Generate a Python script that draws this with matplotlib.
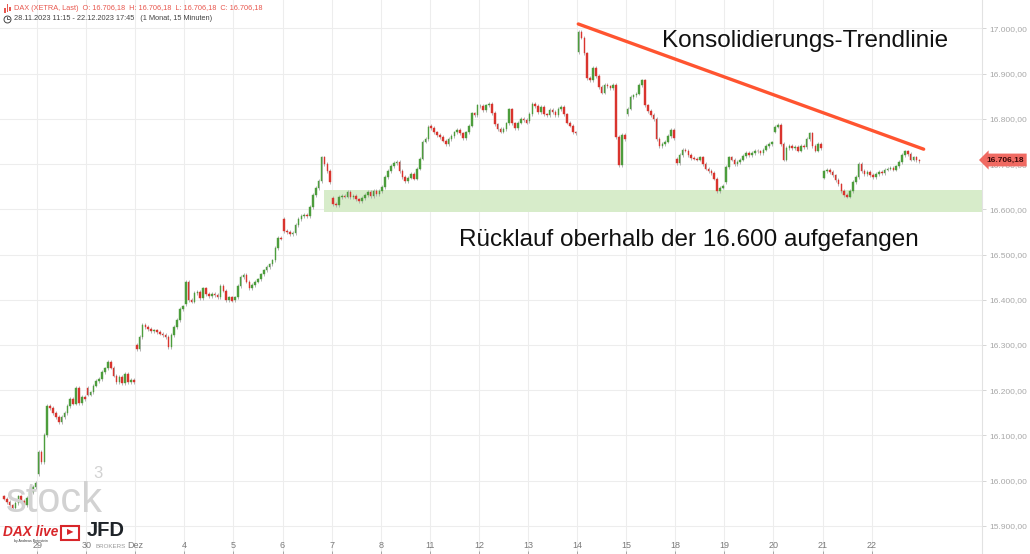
import numpy as np
import matplotlib.pyplot as plt
from matplotlib.patches import Rectangle
from matplotlib.transforms import blended_transform_factory

plt.rcParams['font.family'] = ['Liberation Sans', 'DejaVu Sans']

# Handelstage (Sessions), 30-Minuten-Schlusskurse pro Session
sessions = ['28', '29', '30', 'Dez', '4', '5', '6', '7', '8', '11', '12',
            '13', '14', '15', '18', '19', '20', '21', '22']
session_open = [15965, 16015, 16205, 16300, 16390, 16400, 16578, 16625, 16640,
                16785, 16828, 16795, 16948, 16810, 16712, 16660, 16772, 16670, 16676]
closes = [
    [15960, 15952, 15945, 15940, 15950, 15965, 15955, 15945, 15962, 15975, 15985, 15995],
    [16063, 16040, 16100, 16165, 16160, 16150, 16140, 16130, 16140, 16150, 16165, 16180,
     16170, 16205, 16172, 16185, 16180],
    [16190, 16195, 16210, 16220, 16225, 16240, 16248, 16263, 16250, 16232, 16218, 16230,
     16215, 16236, 16218, 16222, 16218],
    [16290, 16318, 16345, 16340, 16335, 16330, 16332, 16328, 16325, 16322, 16318, 16295,
     16322, 16340, 16355, 16380, 16385],
    [16440, 16400, 16396, 16415, 16418, 16404, 16425, 16412, 16408, 16412, 16410, 16405,
     16430, 16420, 16400, 16405, 16398],
    [16405, 16430, 16450, 16455, 16440, 16426, 16433, 16440, 16445, 16456, 16465, 16472,
     16478, 16487, 16515, 16537, 16535],
    [16552, 16550, 16545, 16548, 16565, 16578, 16585, 16588, 16585, 16605, 16632, 16647,
     16662, 16715, 16700, 16685, 16660],
    [16612, 16610, 16627, 16630, 16628, 16638, 16627, 16630, 16622, 16618, 16625, 16632,
     16638, 16630, 16640, 16633, 16640],
    [16650, 16672, 16685, 16696, 16703, 16705, 16685, 16672, 16663, 16670, 16678, 16668,
     16690, 16712, 16750, 16755, 16782],
    [16780, 16770, 16765, 16760, 16752, 16745, 16755, 16762, 16770, 16775, 16768, 16758,
     16770, 16785, 16812, 16808, 16830],
    [16828, 16820, 16830, 16833, 16813, 16788, 16777, 16772, 16778, 16790, 16821, 16790,
     16780, 16792, 16800, 16798, 16792],
    [16811, 16833, 16828, 16815, 16826, 16810, 16808, 16820, 16815, 16808, 16822, 16826,
     16810, 16792, 16785, 16770, 16768],
    [16992, 16980, 16945, 16890, 16885, 16912, 16895, 16870, 16858, 16875, 16872, 16868,
     16875, 16760, 16698, 16765, 16755],
    [16823, 16849, 16852, 16856, 16875, 16885, 16830, 16818, 16808, 16800, 16755, 16740,
     16745, 16750, 16762, 16775, 16758],
    [16702, 16720, 16732, 16730, 16720, 16714, 16712, 16710, 16715, 16700, 16690, 16685,
     16680, 16668, 16640, 16648, 16652],
    [16694, 16715, 16710, 16700, 16705, 16710, 16718, 16725, 16720, 16725, 16730, 16728,
     16725, 16732, 16740, 16745, 16748],
    [16783, 16786, 16745, 16710, 16735, 16740, 16735, 16738, 16730, 16740, 16738, 16755,
     16768, 16740, 16730, 16745, 16735],
    [16684, 16688, 16683, 16675, 16665, 16655, 16640, 16632, 16628, 16640, 16660, 16672,
     16700, 16685, 16678, 16682, 16676],
    [16672, 16678, 16683, 16680, 16688, 16690, 16692, 16688, 16695, 16705, 16720, 16728,
     16722, 16710, 16715, 16708, 16706.18],
]
BARS_PER_DAY = 17
last_price = 16706.18
support_zone = (16594, 16643)
trend_start = (203.9, 17010)
trend_end = (323.5, 16733)

# OHLC-Arrays aufbauen
pos, o, c = [], [], []
for i, cl in enumerate(closes):
    start = BARS_PER_DAY - len(cl)
    prev = session_open[i]
    for j, v in enumerate(cl):
        pos.append(i * BARS_PER_DAY + start + j)
        o.append(prev)
        c.append(v)
        prev = v
pos, o, c = np.array(pos), np.array(o), np.array(c)
up = c >= o

fig = plt.figure(figsize=(10.30, 5.54), dpi=100)
ax = fig.add_axes([0, 0, 982 / 1030, 1])
ax.set_xlim(3.66, 343.7)
ax.set_ylim(15837.4, 17063.05)

# Gitter
yticks = np.arange(15900, 17001, 100)
for yv in yticks:
    ax.axhline(yv, color='#ededed', lw=0.8, zorder=0)
tick_pos = [i * BARS_PER_DAY - 0.5 for i in range(1, len(sessions))]
for xv in tick_pos:
    ax.axvline(xv, color='#ededed', lw=0.8, zorder=0)

# Wasserzeichen / Logos
fig.text(6 / 1030, 1 - 512 / 554, 'stock', fontsize=30, color='#d2d2d2',
         va='baseline', zorder=1)
fig.text(93 / 1030, 1 - 478 / 554, '3', fontsize=12, color='#d2d2d2', zorder=1)
fig.text(3 / 1030, 1 - 532 / 554, 'DAX live', fontsize=9.8, color='#d8262a',
         fontweight='bold', fontstyle='italic', va='center')
fig.add_artist(Rectangle((61 / 1030, 1 - 540 / 554), 18 / 1030, 14 / 554,
                         transform=fig.transFigure, fill=False, ec='#d8262a', lw=1.5))
fig.text(70 / 1030, 1 - 533 / 554, '▶', fontsize=6, color='#d8262a', ha='center', va='center')
fig.text(14 / 1030, 1 - 542 / 554, 'by Andreas Bernstein', fontsize=2.5, color='#333333')
fig.text(87 / 1030, 1 - 531 / 554, 'JFD', fontsize=14.5, color='#1e2328',
         fontweight='bold', va='center')
fig.text(96 / 1030, 1 - 546 / 554, 'BROKERS', fontsize=4.5, color='#9a9a9a', va='center')

# Unterstuetzungszone
ax.add_patch(Rectangle((115.7, support_zone[0]), 343.7 - 115.7,
                       support_zone[1] - support_zone[0],
                       color='#d7ecca', lw=0, zorder=1))

# Kerzen
ax.vlines(pos, np.minimum(o, c) - 4, np.maximum(o, c) + 4, color='#a8a8a8',
          lw=0.6, zorder=2)
ax.bar(pos[up], (c - o)[up], bottom=o[up], width=0.55, color='#4c9d3c',
       edgecolor='#4c9d3c', lw=0.3, zorder=3)
ax.bar(pos[~up], (c - o)[~up], bottom=o[~up], width=0.55, color='#d9342e',
       edgecolor='#d9342e', lw=0.3, zorder=3)

# Trendlinie
ax.plot([trend_start[0], trend_end[0]], [trend_start[1], trend_end[1]],
        color='#ff5430', lw=2.4, solid_capstyle='round', zorder=4)

fig.text(662 / 1030, 1 - 41 / 554, 'Konsolidierungs-Trendlinie', fontsize=17.5,
         color='#111111', va='center')
fig.text(459 / 1030, 1 - 240 / 554, 'Rücklauf oberhalb der 16.600 aufgefangen',
         fontsize=17.5, color='#111111', va='center')

# Y-Achse rechts
def de_fmt(v):
    s = f'{v:,.2f}'
    return s.replace(',', 'X').replace('.', ',').replace('X', '.')

ax.yaxis.tick_right()
ax.set_yticks(yticks)
ax.set_yticklabels([de_fmt(v) for v in yticks])
ax.tick_params(axis='y', length=3, color='#cfcfcf', labelcolor='#a8a8a8',
               labelsize=6, pad=2, width=0.6)
ax.set_xticks([])
for s in ['top', 'left', 'bottom']:
    ax.spines[s].set_visible(False)
ax.spines['right'].set_color('#e2e2e2')
ax.spines['right'].set_linewidth(0.8)

# X-Achse (Tage)
tr = blended_transform_factory(ax.transData, ax.transAxes)
for xv, lab in zip(tick_pos, sessions[1:]):
    ax.text(xv, 1 - 546 / 554, lab, transform=tr, ha='center', va='center',
            fontsize=6.5, color='#7a7a7a')
ax.vlines(tick_pos, 0, 3 / 554, transform=tr, color='#9a9a9a', lw=0.6)

# Kursmarke
fig.text(1005 / 1030, 1 - 160 / 554, de_fmt(last_price), fontsize=6, color='#3a0808',
         ha='center', va='center', fontweight='bold',
         bbox=dict(boxstyle='larrow,pad=0.35', fc='#f06a62', ec='none'))

# Kopfzeile
fig.text(14 / 1030, 1 - 9 / 554,
         'DAX (XETRA, Last)  O: 16.706,18  H: 16.706,18  L: 16.706,18  C: 16.706,18',
         fontsize=5.3, color='#e8584f', va='center')
fig.text(14 / 1030, 1 - 19 / 554,
         '28.11.2023 11:15 - 22.12.2023 17:45   (1 Monat, 15 Minuten)',
         fontsize=5.3, color='#444444', va='center')
for k, h in enumerate([5, 8, 4]):
    fig.add_artist(Rectangle(((4 + 2.5 * k) / 1030, 1 - (13 - k) / 554), 1.6 / 1030,
                             h / 554, transform=fig.transFigure, color='#e8584f', lw=0))
fig.add_artist(plt.Line2D([7 / 1030], [1 - 19 / 554], marker='o', markersize=5,
                          markerfacecolor='none', markeredgecolor='#444444',
                          markeredgewidth=0.7, transform=fig.transFigure))
fig.add_artist(plt.Line2D([7 / 1030, 7 / 1030, 8.5 / 1030],
                          [1 - 17 / 554, 1 - 19 / 554, 1 - 19 / 554], lw=0.6,
                          color='#444444', transform=fig.transFigure))

fig.savefig('out.png', dpi=100)
